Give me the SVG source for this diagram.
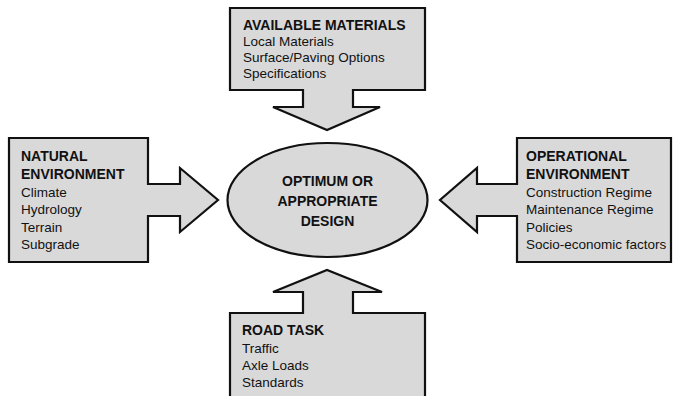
<svg xmlns="http://www.w3.org/2000/svg" width="673" height="396" viewBox="0 0 673 396">
<style>
.shape{fill:#d9d9d9;stroke:#111;stroke-width:2.2;stroke-linejoin:miter}
.b{font-family:"Liberation Sans",Arial,sans-serif;font-weight:bold;font-size:14px;fill:#111}
.r{font-family:"Liberation Sans",Arial,sans-serif;font-size:13.5px;fill:#111}
.c{text-anchor:middle}
</style>
<rect width="673" height="396" fill="#fff"/>
<g id="connectors"></g>
<g id="available-materials">
<path class="shape" d="M230,8 H425 V90 H353 V107 H380 L327,130 L273,107 H303 V90 H230 Z"/>
<text class="b" x="243" y="30">AVAILABLE MATERIALS</text>
<text class="r" x="243" y="46">Local Materials</text>
<text class="r" x="243" y="62">Surface/Paving Options</text>
<text class="r" x="243" y="78">Specifications</text>
</g>
<g id="natural-environment">
<path class="shape" d="M9,138 H148 V184 H180 V168 L218,200 L180,232 V216 H148 V262 H9 Z"/>
<text class="b" x="21" y="161">NATURAL</text>
<text class="b" x="21" y="179">ENVIRONMENT</text>
<text class="r" x="21" y="197">Climate</text>
<text class="r" x="21" y="214">Hydrology</text>
<text class="r" x="21" y="232">Terrain</text>
<text class="r" x="21" y="249">Subgrade</text>
</g>
<g id="operational-environment">
<path class="shape" d="M517,138 H671 V262 H517 V216 H477 V232 L440,200 L477,168 V184 H517 Z"/>
<text class="b" x="526" y="161">OPERATIONAL</text>
<text class="b" x="526" y="179">ENVIRONMENT</text>
<text class="r" x="526" y="197">Construction Regime</text>
<text class="r" x="526" y="214">Maintenance Regime</text>
<text class="r" x="526" y="232">Policies</text>
<text class="r" x="526" y="249">Socio-economic factors</text>
</g>
<g id="road-task">
<path class="shape" d="M230,402 V313 H303 V292 H273 L327,270 L382,292 H353 V313 H425 V402 Z"/>
<text class="b" x="242" y="335">ROAD TASK</text>
<text class="r" x="242" y="353">Traffic</text>
<text class="r" x="242" y="370">Axle Loads</text>
<text class="r" x="242" y="387">Standards</text>
</g>
<g id="optimum-design">
<ellipse class="shape" cx="327.5" cy="200" rx="100" ry="57"/>
<text class="b c" x="327.5" y="186">OPTIMUM OR</text>
<text class="b c" x="327.5" y="206">APPROPRIATE</text>
<text class="b c" x="327.5" y="226">DESIGN</text>
</g>
</svg>
